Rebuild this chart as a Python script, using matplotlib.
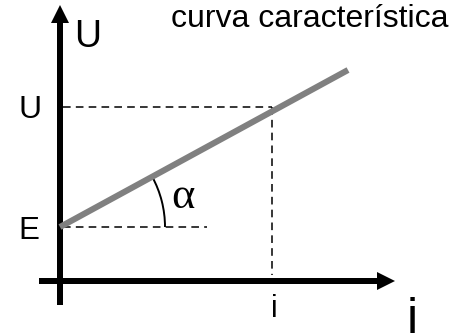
import matplotlib
matplotlib.use("Agg")
import matplotlib.pyplot as plt
from matplotlib.patches import Arc, FancyArrow

# Values (schematic units, origin at axis crossing)
E_value = 5.4
U_value = 17.4
i_value = 21.2
curve_i = [0.0, 28.8]
curve_u = [5.4, 21.1]
alpha_deg = 28.6
x_tick_labels = ["i"]
y_tick_labels = ["E", "U"]
title_text = "curva característica"

fig = plt.figure(figsize=(4.51, 3.34), dpi=100)
ax = fig.add_axes([0, 0, 1, 1])
ax.set_xlim(-6.0, 39.1)
ax.set_ylim(-5.3, 28.1)
ax.axis("off")

# axes with arrows
ax.add_patch(FancyArrow(0, -2.4, 0, 30.0, width=0.6, head_width=1.8, head_length=1.8,
                        length_includes_head=True, color="black", lw=0))
ax.add_patch(FancyArrow(-2.1, 0, 35.6, 0, width=0.6, head_width=1.8, head_length=1.8,
                        length_includes_head=True, color="black", lw=0))

# dashed guide lines
dash = dict(color="black", lw=1.1, dashes=(5, 3.4))
ax.plot([0.3, i_value], [U_value, U_value], **dash)
ax.plot([i_value, i_value], [U_value, 0.6], **dash)
ax.plot([0.3, 14.7], [E_value, E_value], **dash)

# characteristic curve
ax.plot(curve_i, curve_u, color="#808080", lw=4.4, solid_capstyle="butt")

# angle arc
ax.add_patch(Arc((0, E_value), 21.0, 21.0, theta1=0, theta2=alpha_deg, color="black", lw=1.4))

sans = ["Liberation Sans", "DejaVu Sans"]
serif = ["Liberation Serif", "DejaVu Serif"]
ax.text(12.3, 7.3, "α", fontsize=32, family=serif, ha="center", va="baseline")
ax.text(11.1, 25.4, title_text, fontsize=23, family=sans, ha="left", va="baseline")
ax.text(2.8, 23.4, "U", fontsize=27, family=sans, ha="center", va="baseline")
ax.text(-3.0, U_value - 1.1, y_tick_labels[1], fontsize=23, family=sans, ha="center", va="baseline")
ax.text(-3.1, E_value - 1.2, y_tick_labels[0], fontsize=22.5, family=sans, ha="center", va="baseline")
ax.text(i_value + 0.2, -3.6, x_tick_labels[0], fontsize=22, family=sans, ha="center", va="baseline")
ax.text(35.25, -5.2, "i", fontsize=36, family=sans, ha="center", va="baseline")

fig.savefig("out.png", dpi=100)
